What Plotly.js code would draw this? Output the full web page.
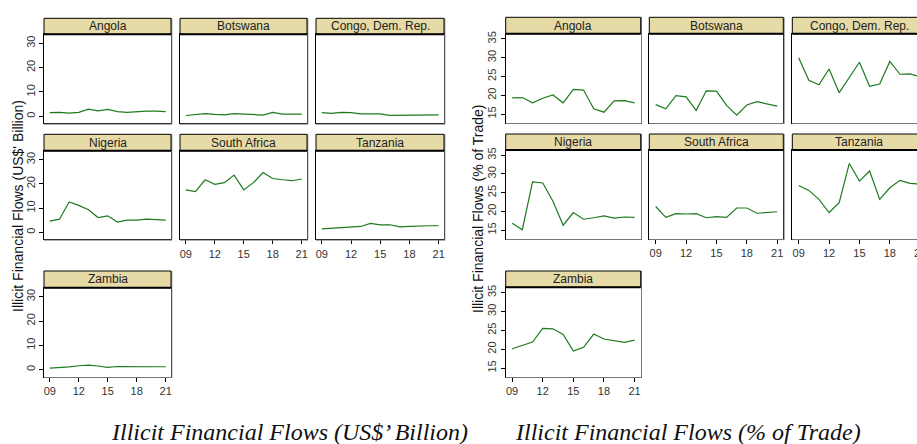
<!DOCTYPE html>
<html>
<head>
<meta charset="utf-8">
<script src="https://cdn.plot.ly/plotly-3.0.1.min.js"></script>
<style>
html,body{margin:0;padding:0;overflow:hidden;background:#fff;}
#chart{width:940px;height:444px;}
</style>
</head>
<body>
<div id="chart"></div>
<script>
// ---- Data ----
const years = [2009,2010,2011,2012,2013,2014,2015,2016,2017,2018,2019,2020,2021];
const tickYears = [2009,2012,2015,2018,2021];
const tickLabels = ["09","12","15","18","21"];
const countries = ["Angola","Botswana","Congo, Dem. Rep.","Nigeria","South Africa","Tanzania","Zambia"];

// Illicit Financial Flows (US$' Billion)
const angolaUSD   = [1.5,1.6,1.3,1.6,2.9,2.2,2.8,1.9,1.6,1.9,2.1,2.1,1.9];
const botswanaUSD = [0.3,0.7,1.1,0.8,0.6,1.1,0.9,0.7,0.5,1.6,0.9,0.9,0.9];
const congoUSD    = [1.5,1.2,1.6,1.5,1.0,1.0,1.0,0.4,0.4,0.7,0.7,0.6,0.6];
const nigeriaUSD  = [4.6,5.4,12.5,11.1,9.3,6.1,6.8,4.2,5.0,5.0,5.4,5.3,5.0];
const safricaUSD  = [17.5,16.8,21.7,19.8,20.5,23.6,17.5,20.5,24.7,22.2,21.7,21.3,22.0];
const tanzaniaUSD = [1.4,1.6,1.9,2.0,2.4,3.7,3.1,3.1,2.2,2.4,2.7,2.7,2.7];
const zambiaUSD   = [0.6,0.8,1.1,1.6,1.9,1.5,0.9,1.3,1.2,1.3,1.3,1.2,1.2];

// Illicit Financial Flows (% of Trade)
const angolaPct   = [19.3,19.4,18.0,19.2,20.1,18.0,21.6,21.4,16.4,15.5,18.5,18.6,18.0];
const botswanaPct = [17.5,16.4,19.9,19.6,16.0,21.2,21.1,17.3,14.7,17.4,18.3,17.8,17.1];
const congoPct    = [30.0,24.0,22.8,27.0,20.7,24.8,28.8,22.4,23.0,29.0,25.6,25.7,24.9];
const nigeriaPct  = [16.8,15.1,27.9,27.6,22.7,16.3,19.7,17.9,18.3,18.8,18.2,18.5,18.4];
const safricaPct  = [21.3,18.4,19.4,19.3,19.4,18.3,18.6,18.4,20.9,20.9,19.5,19.7,19.9];
const tanzaniaPct = [26.9,25.6,23.2,19.7,22.3,32.8,28.1,30.8,23.2,26.3,28.3,27.5,27.3];
const zambiaPct   = [20.1,20.9,21.9,25.5,25.4,23.9,19.5,20.5,24.0,22.7,22.2,21.8,22.4];

const usdSeries = [angolaUSD,botswanaUSD,congoUSD,nigeriaUSD,safricaUSD,tanzaniaUSD,zambiaUSD];
const pctSeries = [angolaPct,botswanaPct,congoPct,nigeriaPct,safricaPct,tanzaniaPct,zambiaPct];

const usdYTicks = [0,10,20,30];
const pctYTicks = [15,20,25,30,35];
const titleUSD = "Illicit Financial Flows (US$' Billion)";
const titlePct = "Illicit Financial Flows (% of Trade)";
const captionUSD = "Illicit Financial Flows (US$\u2019 Billion)";
const captionPct = "Illicit Financial Flows (% of Trade)";

// ---- Layout geometry (pixels) ----
const W = 940, H = 444;
const fx = p => p / W;
const fy = p => 1 - p / H;

const charts = [
  {series: usdSeries, yrange: [-2.9, 33.7], yticks: usdYTicks, xrange: [2008.4, 2021.55],
   cols: [[44,171],[180,307],[316,444]],
   rows: [[18.3,34.3,123.3],[134.3,150.7,239.3],[271,287.7,376.7]],
   ytitle: titleUSD, ytx: 18, yty: 206, btitle: captionUSD, btx: 289},
  {series: pctSeries, yrange: [12.7, 36.4], yticks: pctYTicks, xrange: [2008.37, 2021.6],
   cols: [[505.7,640.7],[649.3,783.3],[792.3,926.3]],
   rows: [[17.3,33.7,122.7],[134,150,238.7],[271,287.3,376.7]],
   ytitle: titlePct, ytx: 478, yty: 209, btitle: captionPct, btx: 688}
];

const stripFill = "#E6DAA6";
const lineColor = "#1f7a1f";
const tickFont = {family: "Liberation Sans, Arial, sans-serif", size: 11, color: "#333"};

const data = [];
const layout = {
  width: W, height: H,
  margin: {l:0, r:0, t:0, b:0},
  paper_bgcolor: "#fff", plot_bgcolor: "#fff",
  showlegend: false,
  shapes: [], annotations: []
};

let k = 0;
charts.forEach((c) => {
  countries.forEach((name, i) => {
    k += 1;
    const row = Math.floor(i / 3), col = i % 3;
    const [x0, x1] = c.cols[col];
    const [s0, s1, p1] = c.rows[row];
    const xa = k === 1 ? "xaxis" : "xaxis" + k;
    const ya = k === 1 ? "yaxis" : "yaxis" + k;
    const xr = k === 1 ? "x" : "x" + k;
    const yr = k === 1 ? "y" : "y" + k;
    const showX = (i === 4 || i === 5 || i === 6);
    const showY = (col === 0);

    data.push({
      type: "scatter", mode: "lines",
      x: years, y: c.series[i],
      xaxis: xr, yaxis: yr,
      line: {color: lineColor, width: 1.2},
      hoverinfo: "skip"
    });

    layout[xa] = {
      domain: [fx(x0), fx(x1)], anchor: yr,
      range: c.xrange, showgrid: false, zeroline: false,
      showline: true, mirror: true, linecolor: "#000", linewidth: 1,
      tickmode: "array", tickvals: tickYears, ticktext: tickLabels,
      ticks: showX ? "outside" : "", ticklen: 4, tickcolor: "#000",
      showticklabels: showX, tickfont: tickFont, fixedrange: true
    };
    layout[ya] = {
      domain: [fy(p1), fy(s1)], anchor: xr,
      range: c.yrange, showgrid: false, zeroline: false,
      showline: true, mirror: true, linecolor: "#000", linewidth: 1,
      tickmode: "array", tickvals: c.yticks,
      ticks: showY ? "outside" : "", ticklen: 4, tickcolor: "#000",
      showticklabels: showY, tickangle: -90, tickfont: tickFont, fixedrange: true
    };

    // panel shadow (right / bottom edges look grey in reference)
    layout.shapes.push({
      type: "line", xref: "paper", yref: "paper",
      x0: fx(x0), x1: fx(x1 + 1), y0: fy(p1 + 0.8), y1: fy(p1 + 0.8),
      line: {color: "#777", width: 1}, layer: "above"
    });
    layout.shapes.push({
      type: "line", xref: "paper", yref: "paper",
      x0: fx(x1 + 0.8), x1: fx(x1 + 0.8), y0: fy(p1 + 1), y1: fy(s0),
      line: {color: "#777", width: 1}, layer: "above"
    });
    // strip
    layout.shapes.push({
      type: "rect", xref: "paper", yref: "paper",
      x0: fx(x0), x1: fx(x1), y0: fy(s1), y1: fy(s0),
      fillcolor: stripFill, line: {color: "#000", width: 1}, layer: "above"
    });
    layout.shapes.push({
      type: "line", xref: "paper", yref: "paper",
      x0: fx(x0), x1: fx(x1), y0: fy(s1), y1: fy(s1),
      line: {color: "#000", width: 2}, layer: "above"
    });
    layout.annotations.push({
      xref: "paper", yref: "paper",
      x: fx((x0 + x1) / 2), y: fy((s0 + s1) / 2),
      text: name, showarrow: false, xanchor: "center", yanchor: "middle",
      font: {family: "Liberation Sans, Arial, sans-serif", size: 12, color: "#222"}
    });
  });

  // y-axis title
  layout.annotations.push({
    xref: "paper", yref: "paper", x: fx(c.ytx), y: fy(c.yty),
    text: c.ytitle, textangle: -90, showarrow: false,
    xanchor: "center", yanchor: "middle",
    font: {family: "Liberation Sans, Arial, sans-serif", size: 14, color: "#111"}
  });
  // bottom caption
  layout.annotations.push({
    xref: "paper", yref: "paper", x: fx(c.btx), y: fy(432),
    text: "<i>" + c.btitle + "</i>", showarrow: false,
    xanchor: "center", yanchor: "middle",
    font: {family: "Liberation Serif, Times New Roman, serif", size: 24, color: "#111"}
  });
});

Plotly.newPlot("chart", data, layout, {staticPlot: true, displayModeBar: false});
</script>
</body>
</html>
